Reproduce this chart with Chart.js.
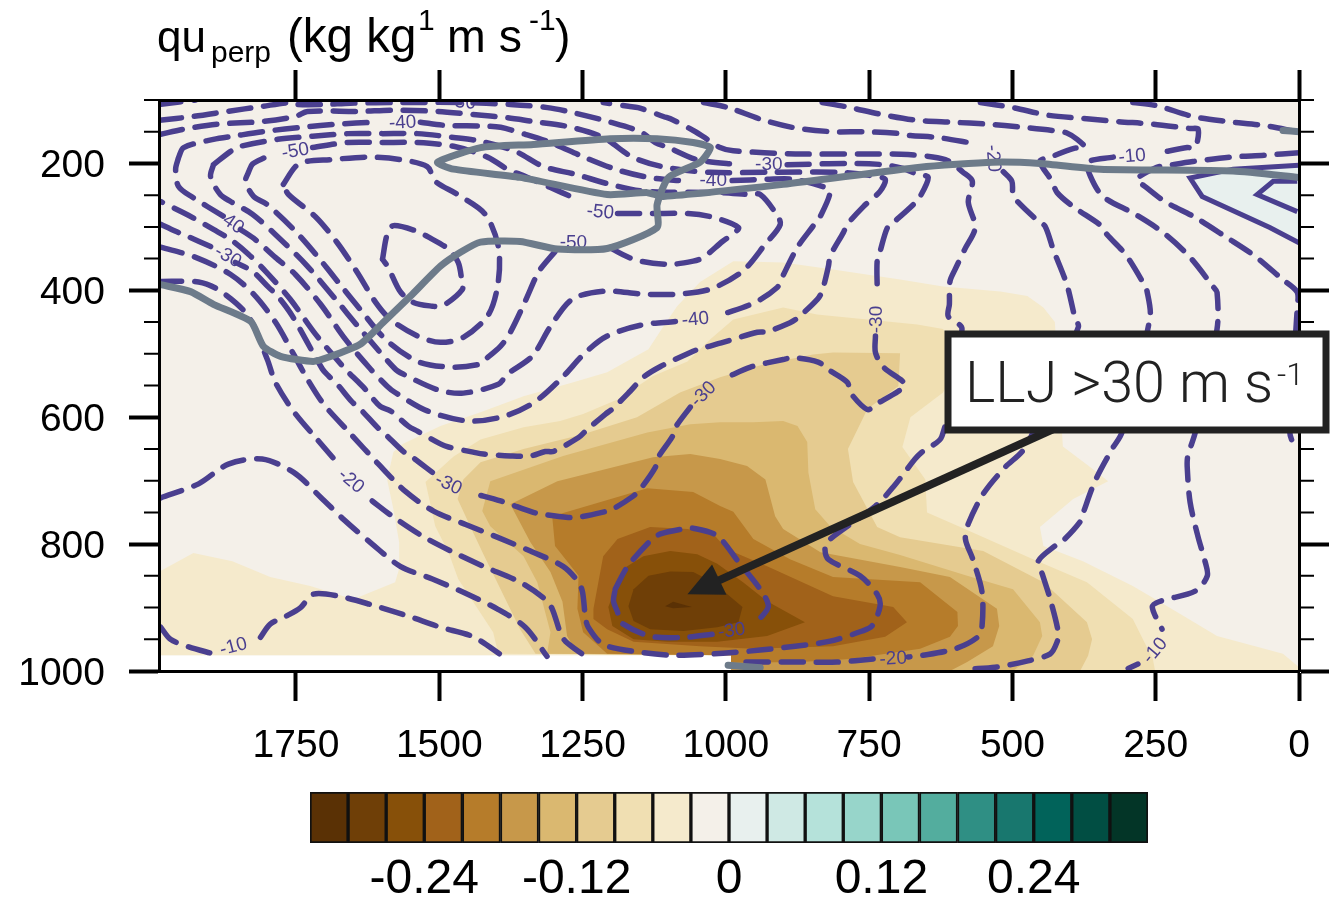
<!DOCTYPE html>
<html>
<head>
<meta charset="utf-8">
<title>qu perp cross section</title>
<script src="https://cdn.jsdelivr.net/npm/chart.js@4/dist/chart.umd.min.js"></script>
<style>
    html, body { margin: 0; padding: 0; background: #ffffff; }
    #cross_section { position: absolute; left: 0; top: 0; }
    #colorbar { position: absolute; left: 0; top: 780px; }
</style>
</head>
<body>
<canvas id="cross_section" width="1330" height="901"></canvas>
<canvas id="colorbar" width="1330" height="121"></canvas>
<script>
    // all pairs are [distance km, pressure hPa], null breaks a line at a contour label
    const x_ticks = [0, 250, 500, 750, 1000, 1250, 1500, 1750];
    const y_ticks = [200, 400, 600, 800, 1000];
    const y_minor_ticks = [100, 150, 250, 300, 350, 450, 500, 550, 650, 700, 750, 850, 900, 950];

    const colorbar_levels = [-0.33, -0.30, -0.27, -0.24, -0.21, -0.18, -0.15, -0.12, -0.09, -0.06, -0.03, 0, 0.03, 0.06, 0.09, 0.12, 0.15, 0.18, 0.21, 0.24, 0.27, 0.30, 0.33];
    const colorbar_ticks = [-0.24, -0.12, 0, 0.12, 0.24];
    const colorbar_colors = ['#5a3105', '#6f3f07', '#875009', '#a1621a', '#b67c2a', '#c7984a', '#dab870', '#e5cb90', '#f0dfb2', '#f5eacc', '#f4f0e9', '#e8f0ee', '#cfe9e4', '#b5e2da', '#97d5ca', '#79c6b8', '#53ad9e', '#2f8f84', '#18776e', '#01635a', '#014e43', '#033527'];

    const fill_neutral = [[1989,100],[0,100],[0,1000],[991,1000],[991,975],[1989,975]];
    const fill_minus_03 = [[1988,843],[1929,814],[1861,827],[1795,852],[1725,866],[1650,887],[1577,860],[1570,839],[1570,797],[1580,745],[1591,698],[1580,655],[1563,642],[1498,614],[1428,592],[1353,567],[1266,545],[1207,529],[1135,493],[1109,457],[1085,425],[1045,387],[987,354],[900,356],[813,367],[696,383],[621,394],[521,402],[474,409],[446,427],[426,450],[417,572],[412,646],[364,679],[333,701],[394,729],[452,773],[446,803],[377,827],[290,866],[213,907],[143,945],[28,973],[0,994],[0,1000],[991,1000],[991,975],[1989,975],[1989,845]];
    const fill_minus_06 = [[1397,973],[1406,939],[1441,891],[1467,855],[1484,813],[1507,772],[1524,702],[1475,662],[1428,635],[1353,616],[1289,606],[1249,595],[1189,572],[1127,535],[1067,512],[1027,477],[987,446],[900,427],[841,438],[666,454],[621,461],[591,509],[621,561],[678,600],[692,647],[652,698],[649,750],[591,773],[464,824],[370,860],[290,918],[255,981],[251,1000],[991,1000],[991,975]];
    const fill_minus_09 = [[1332,973],[1359,934],[1393,871],[1423,816],[1446,772],[1468,729],[1458,698],[1428,671],[1353,650],[1249,627],[1155,600],[1080,561],[1010,537],[935,517],[848,501],[813,498],[696,499],[699,551],[753,587],[787,650],[778,702],[736,773],[696,789],[551,811],[446,860],[370,923],[361,950],[368,976],[382,1000],[991,1000],[991,975]];
    const fill_minus_12 = [[1312,973],[1306,939],[1329,860],[1353,819],[1411,772],[1425,748],[1411,701],[1284,661],[1137,624],[1062,611],[1010,608],[952,608],[900,606],[875,614],[858,639],[856,687],[844,745],[818,772],[766,800],[696,817],[579,850],[499,871],[452,923],[448,945],[464,976],[499,1000],[991,1000],[991,975]];
    const fill_minus_15 = [[1259,973],[1277,945],[1285,891],[1306,844],[1341,797],[1376,737],[1294,701],[1127,663],[1062,658],[1010,666],[963,677],[931,698],[914,756],[900,776],[835,813],[696,836],[609,852],[527,902],[523,929],[534,961],[579,986],[609,1000],[991,1000],[991,975]];
    const fill_minus_18 = [[1207,973],[1249,939],[1259,902],[1257,850],[1298,803],[1303,756],[1137,712],[1057,718],[1010,740],[987,749],[952,792],[888,824],[813,852],[661,860],[596,907],[595,929],[609,946],[661,965],[783,981],[870,986],[991,987],[991,975]];
    const fill_minus_21 = [[1231,902],[1214,819],[1189,792],[1132,773],[1067,776],[1022,784],[998,808],[928,835],[813,882],[708,899],[684,923],[722,946],[813,961],[952,965],[1045,961],[1161,954],[1207,934],[1231,918]];
    const fill_minus_24 = [[1205,899],[1193,871],[1179,839],[1144,819],[1097,811],[1050,816],[1015,831],[970,860],[928,890],[862,923],[928,945],[1015,954],[1102,954],[1161,950],[1198,929]];
    const fill_minus_27 = [[1170,898],[1161,871],[1135,850],[1097,843],[1057,844],[1022,860],[971,899],[978,923],[1015,931],[1074,937],[1132,934],[1161,921]];
    const fill_minus_30 = [[1106,898],[1092,891],[1059,899],[1092,901]];
    const fill_plus_03 = [[0,203],[115,209],[190,223],[169,252],[51,301],[0,325]];

    const contour_edge = [[1989,107],[1925,100]];
    const contour_minus_30 = [[1988,132],[1930,126],[1870,118],[1809,110],[1760,104],[1747,107],[1702,107],[1655,105],[1568,104],[1460,104],[1376,107],[1311,112],[1266,120],[1205,134],[1149,150],[1123,167],[1100,175],[1050,194],[975,202],null,[893,202],[787,200],[725,202],[691,208],[666,217],[647,222],[661,252],[673,265],[705,291],[718,301],[731,339],[736,354],[736,395],null,[739,472],[739,498],[725,521],[687,548],[699,559],[739,580],[753,588],[783,561],[788,545],[821,525],[839,513],[882,506],[900,509],[957,521],[998,537],null,[1062,584],[1088,616],[1093,630],[1120,666],[1123,679],[1149,713],[1161,724],[1198,745],[1216,750],[1259,758],[1275,758],[1320,753],[1336,750],[1393,732],[1437,721],null,[1512,687],[1547,663],[1564,653],[1594,627],[1608,616],[1638,587],[1652,576],[1678,548],[1693,535],[1704,524],[1756,441],[1782,409],[1798,395],[1826,370],[1856,356],null,[1899,331],[1939,315],[1960,307],[1986,296]];
    const contour_minus_35 = [[1986,154],[1946,146],[1885,138],[1809,134],[1751,126],[1730,118],[1641,118],[1580,116],[1503,118],[1441,123],[1381,128],[1336,134],[1275,142],[1214,159],[1163,190],[1106,206],[1027,214],[926,214],[800,214],[748,219],[722,225],[731,244],[760,268],[788,296],[795,309],[818,346],[821,362],[832,401],[840,414],[874,443],[888,451],[928,465],[945,466],[1005,482],[1048,493],[1062,498],[1114,520],[1144,537],[1167,559],[1198,587],[1210,595],[1245,622],[1257,632],[1301,654],[1315,654],[1341,661],[1376,661],[1423,658],[1441,655],[1484,647],[1498,642],[1538,622],[1554,614],[1585,590],[1603,583],[1632,553],[1643,543],[1664,524],[1716,469],[1760,414],[1803,370],[1833,343],[1864,320],[1894,304],[1931,285],[1948,277],[1986,260]];
    const contour_minus_40 = [[1955,191],[1946,175],[1894,162],[1859,157],[1800,149],[1739,143],[1676,138],[1615,135],null,[1533,135],[1489,140],[1425,141],[1393,143],[1350,154],[1306,167],[1250,189],[1193,209],[1135,222],[1071,228],null,[989,227],[928,225],[882,225],[832,236],[818,244],[835,283],[848,299],[875,332],[902,380],[910,395],[949,419],[1006,438],null,[1088,449],[1149,455],[1207,472],[1245,498],[1285,537],[1332,575],[1385,598],[1449,606],[1521,590],[1577,561],[1591,551],[1620,524],[1664,477],[1707,422],[1751,375],[1786,348],[1821,320],[1847,304],null,[1877,283],[1931,253],[1955,236],[1960,209],[1955,191]];
    const contour_minus_45 = [[1894,202],[1864,181],[1847,173],[1782,162],[1721,157],[1660,153],[1599,153],[1538,153],[1475,159],[1428,165],[1367,181],[1318,205],[1263,217],[1202,233],[1141,244],[1005,246],[958,249],[940,249],[914,277],[905,296],[931,327],[971,370],[1027,398],[1085,406],[1146,406],[1210,401],[1268,414],[1306,457],[1338,504],[1381,532],[1397,548],[1458,562],[1502,557],[1563,532],[1577,524],[1638,461],[1681,414],[1733,359],[1786,312],[1826,280],[1864,260],[1882,249],[1899,221],[1894,202]];
    const contour_minus_50 = [[1833,214],[1826,201],[1803,190],null,[1721,175],[1660,167],[1599,167],[1538,167],[1475,173],[1416,190],[1376,212],[1359,217],[1306,238],[1266,254],null,[1189,279],[1127,279],[1066,279],[1022,285],[978,301],[989,312],[1006,323],[1039,348],[1057,354],[1100,359],[1161,351],[1214,327],null,[1298,339],[1324,367],[1332,380],[1350,417],[1376,466],[1393,488],[1420,509],[1432,517],[1481,521],[1538,512],[1594,477],[1638,430],[1673,391],[1713,346],[1754,304],[1800,265],[1824,252],[1838,228],[1833,214]];
    const contour_minus_55 = [[1772,233],[1751,205],[1733,197],[1690,194],[1625,190],[1568,194],[1521,205],[1507,228],[1468,249],[1420,280],[1397,331],[1397,386],[1414,438],[1458,474],[1498,482],[1538,472],[1585,446],[1611,419],[1643,372],[1678,325],[1716,284],[1763,249],[1772,233]];
    const contour_minus_60 = [[1599,351],[1591,312],[1580,298],[1538,307],[1521,315],[1484,335],[1467,356],[1461,383],[1460,399],[1495,425],[1512,425],[1545,419],[1568,402],[1589,364],[1599,351]];
    const contour_minus_20_west = [[1988,386],[1920,387],[1882,401],[1833,441],[1800,509],[1786,545],[1754,591],[1713,635],[1673,677],null,[1617,732],[1582,756],[1530,787],[1475,813],[1423,835],[1359,860],[1315,887],[1303,902],[1289,939],[1280,953],[1245,977]];
    const contour_minus_25 = [[1986,332],[1925,348],[1864,375],[1824,406],[1786,450],[1754,501],[1730,540],[1702,579],[1659,622],[1606,674],[1559,717],[1510,748],[1454,769],[1399,789],[1341,811],[1284,835],[1257,860],[1250,876],[1245,915],[1240,931],[1214,958],[1153,970],[1092,975],[1005,972],[940,967],[879,961],[818,953],[762,937],[745,929],[731,898],[736,879],[766,850],[821,824],[827,805],[818,792],[739,740],[708,710],[670,666],[658,655],[623,630],[588,461],[612,441],[610,422],[609,386],[600,367],[583,335],[565,301],[577,261],[570,228],[586,214],[617,194],[682,186],[758,185],[879,185],[987,180],[1010,175],[1039,158],[1053,150],[1093,131],[1109,126],[1153,112],[1170,110],[1214,104]];
    const contour_minus_20_east = [[1039,104],[996,112],[937,131],[879,144],[814,150],[757,150],[696,153],[678,156],[631,159],[570,168],null,[516,213],[501,228],[499,249],[490,261],[455,291],[443,299],[429,335],[405,391],[391,443],[385,458],[464,624],[483,654],[513,679],[551,721],[577,768],[582,792],[569,824],[553,876],[553,929],[560,946],[600,965],[661,976],[682,978],null,[743,981],[806,986],[865,986],[928,986],[975,986]];
    const contour_minus_15 = [[832,104],[788,111],[727,123],[666,132],[605,135],[544,138],[483,143],[422,149],[405,152],[387,162],[373,175],[391,176],[434,190],[452,197],[431,228],[422,246],[394,268],[344,299],[335,312],[303,343],[272,388],[265,402],[260,443],[309,624],[326,650],[356,701],[377,752],[382,765],[412,795],[426,803],[455,827],[448,847],[434,887],[420,939],[422,954],[434,973],[473,984],[530,994],[574,997]];
    const contour_minus_10_east = [[556,104],[499,112],[438,124],[377,129],[316,134],[255,138],[190,145],[176,146],[181,175],[195,175],[242,183],null,[324,190],[368,198],[364,220],[342,252],[286,280],[237,309],[190,348],[150,394],[143,403],[143,461],[181,624],[194,661],[195,679],[190,734],[176,789],[164,827],[160,850],[181,874],[242,890],[256,899],[239,934],null,[281,989],[298,996]];
    const contour_minus_05 = [[0,183],[59,187],[120,190],[185,197],[228,203],[248,206],[283,225],[269,236],[234,260],[181,285],[129,315],[77,346],[30,382],[3,403],[3,427],[16,624],[7,648]];
    const contour_top_east = [[290,104],[248,109],[185,126],[124,134],[63,140],[3,150]];
    const contour_minus_15_west = [[1986,727],[1920,705],[1868,674],[1809,666],[1754,687],[1707,726],[1667,761],[1617,800],[1568,835],[1512,855],[1458,876],[1399,902],[1350,931],[1312,977]];
    const contour_minus_10_west = [[1986,931],[1969,950],[1937,962],[1894,973],null,[1812,947],[1795,926],[1768,914],[1742,900],[1720,879],[1676,882],[1617,896],[1556,913],[1498,931],[1441,946],[1390,976]];
    const contour_minus_30_jet = [[1193,871],[1172,836],[1132,795],[1114,784],[1074,776],[1057,775],[1015,787],[978,828],[937,875],[926,899],[944,921],null,[1024,942],[1071,947],[1132,945],[1184,923],[1189,907],[1196,890],[1193,871]];

    const solid_outer = [[0,203],[115,209],[190,223],[169,252],[51,301],[0,325]];
    const solid_inner = [[3,228],[45,228],[73,249],[3,276]];

    const theta_line = [[1986,391],[1934,402],[1894,422],[1829,449],[1807,488],[1777,504],[1720,512],[1695,506],[1638,485],[1597,450],[1550,409],[1498,362],[1463,340],[1428,324],[1359,323],[1294,335],[1207,334],[1120,301],[1120,265],[1100,222],[1045,198],[1027,175],[1057,167],[1120,161],[1202,161],[1336,170],[1428,175],[1503,198],[1475,209],[1359,222],[1207,249],[1137,246],[1109,252],[900,233],[661,206],[534,198],[452,200],[347,209],[115,212],[0,222]];
    const theta_top_bit = [[28,148],[0,150]];
    const theta_bottom_bit = [[996,991],[940,995]];

    // text, distance, pressure, rotation in degrees
    const contour_labels = [
        ['-30', 1460, 104, 5], ['-40', 1564, 136, -3], ['-50', 1751, 181, -10], ['-40', 1864, 293, 35],
        ['-30', 1869, 347, 30], ['-50', 1219, 277, 5], ['-50', 1266, 325, 0], ['-40', 1053, 446, -5],
        ['-30', 925, 202, 0], ['-40', 1022, 228, 0], ['-30', 736, 446, -90], ['-20', 534, 192, 85],
        ['-10', 291, 189, -5], ['-30', 1039, 564, -45], ['-30', 1484, 706, 25], ['-20', 1654, 701, 40],
        ['-30', 990, 937, -8], ['-20', 708, 981, -3], ['-10', 1859, 962, -15], ['-10', 251, 968, -50]
    ];

    const arrow_tail = [417, 614];
    const arrow_neck = [1014, 858];
    const arrow_head = [[1067, 879], [1024, 832], [999, 880]];

    const contour_color = '#4a3f8f';
    const theta_color = '#6d7b8a';
    const box_color = '#222222';

    function to_points(pairs) {
        return pairs.map(p => p ? {x: p[0], y: p[1]} : {x: NaN, y: NaN});
    }

    const datasets = [];

    function add_fill(pairs, color) {
        datasets.push({label: 'fill', data: to_points(pairs), fill: 'shape', backgroundColor: color, borderWidth: 0, pointRadius: 0, tension: 0});
    }
    function add_contour(pairs) {
        datasets.push({label: 'contour', data: to_points(pairs), fill: false, borderColor: contour_color, borderWidth: 5.5, borderDash: [22, 13], borderCapStyle: 'round', borderJoinStyle: 'round', pointRadius: 0, tension: 0.3});
    }
    function add_solid(pairs) {
        datasets.push({label: 'solid', data: to_points(pairs), fill: false, borderColor: contour_color, borderWidth: 5, pointRadius: 0, tension: 0});
    }
    function add_theta(pairs) {
        datasets.push({label: 'theta', data: to_points(pairs), fill: false, borderColor: theta_color, borderWidth: 7, borderCapStyle: 'round', pointRadius: 0, tension: 0.2});
    }

    add_fill(fill_neutral, colorbar_colors[10]);
    add_fill(fill_minus_03, colorbar_colors[9]);
    add_fill(fill_minus_06, colorbar_colors[8]);
    add_fill(fill_minus_09, colorbar_colors[7]);
    add_fill(fill_minus_12, colorbar_colors[6]);
    add_fill(fill_minus_15, colorbar_colors[5]);
    add_fill(fill_minus_18, colorbar_colors[4]);
    add_fill(fill_minus_21, colorbar_colors[3]);
    add_fill(fill_minus_24, colorbar_colors[2]);
    add_fill(fill_minus_27, colorbar_colors[1]);
    add_fill(fill_minus_30, colorbar_colors[0]);
    add_fill(fill_plus_03, colorbar_colors[11]);

    [contour_edge, contour_minus_30, contour_minus_35, contour_minus_40, contour_minus_45, contour_minus_50,
     contour_minus_55, contour_minus_60, contour_minus_20_west, contour_minus_25, contour_minus_20_east,
     contour_minus_15, contour_minus_10_east, contour_minus_05, contour_top_east, contour_minus_15_west,
     contour_minus_10_west, contour_minus_30_jet].forEach(add_contour);

    add_solid(solid_outer);
    add_solid(solid_inner);
    add_theta(theta_line);
    add_theta(theta_top_bit);
    add_theta(theta_bottom_bit);

    // later entries go on top
    datasets.forEach((d, i) => { d.order = -i; });

    let labels_drawn = false;

    function draw_contour_labels(chart) {
        const ctx = chart.ctx;
        const area = chart.chartArea;
        ctx.save();
        ctx.beginPath();
        ctx.rect(area.left, area.top, area.right - area.left, area.bottom - area.top);
        ctx.clip();
        ctx.fillStyle = contour_color;
        ctx.font = '19px "Liberation Sans"';
        ctx.textAlign = 'center';
        ctx.textBaseline = 'middle';
        contour_labels.forEach(l => {
            ctx.save();
            ctx.translate(chart.scales.x.getPixelForValue(l[1]), chart.scales.y.getPixelForValue(l[2]));
            ctx.rotate(l[3] * Math.PI / 180);
            ctx.fillText(l[0], 0, 0);
            ctx.restore();
        });
        ctx.restore();
    }

    const section_plugin = {
        id: 'section_plugin',
        beforeDraw() {
            labels_drawn = false;
        },
        beforeDatasetDraw(chart, args) {
            if (!labels_drawn && chart.data.datasets[args.index].label === 'theta') {
                draw_contour_labels(chart);
                labels_drawn = true;
            }
        },
        afterDraw(chart) {
            const ctx = chart.ctx;
            const sx = chart.scales.x;
            const sy = chart.scales.y;

            // minor pressure ticks both sides
            ctx.save();
            ctx.strokeStyle = '#000000';
            ctx.lineWidth = 2;
            y_minor_ticks.forEach(v => {
                const py = sy.getPixelForValue(v);
                ctx.beginPath();
                ctx.moveTo(chart.chartArea.left - 15, py);
                ctx.lineTo(chart.chartArea.left, py);
                ctx.moveTo(chart.chartArea.right, py);
                ctx.lineTo(chart.chartArea.right + 15, py);
                ctx.stroke();
            });
            ctx.restore();

            // title
            ctx.save();
            ctx.fillStyle = '#000000';
            ctx.textBaseline = 'alphabetic';
            ctx.font = '44px "Liberation Sans"';
            ctx.fillText('qu', 157, 52);
            ctx.font = '47.5px "Liberation Sans"';
            ctx.fillText('(kg kg', 287, 52);
            ctx.font = '46.5px "Liberation Sans"';
            ctx.fillText('m s', 447, 52);
            ctx.fillText(')', 555, 52);
            ctx.font = '30px "Liberation Sans"';
            ctx.fillText('perp', 211, 62);
            ctx.fillText('1', 418, 30);
            ctx.fillText('-1', 529, 30);
            ctx.restore();

            // arrow to the jet
            ctx.save();
            ctx.strokeStyle = box_color;
            ctx.fillStyle = box_color;
            ctx.lineWidth = 8;
            ctx.beginPath();
            ctx.moveTo(sx.getPixelForValue(arrow_tail[0]), sy.getPixelForValue(arrow_tail[1]));
            ctx.lineTo(sx.getPixelForValue(arrow_neck[0]), sy.getPixelForValue(arrow_neck[1]));
            ctx.stroke();
            ctx.beginPath();
            arrow_head.forEach((p, i) => {
                const px = sx.getPixelForValue(p[0]);
                const py = sy.getPixelForValue(p[1]);
                if (i == 0) { ctx.moveTo(px, py); } else { ctx.lineTo(px, py); }
            });
            ctx.closePath();
            ctx.fill();

            // callout box
            ctx.fillStyle = '#ffffff';
            ctx.fillRect(948, 334, 378, 96);
            ctx.lineWidth = 7;
            ctx.strokeRect(948, 334, 378, 96);
            ctx.fillStyle = box_color;
            ctx.textBaseline = 'alphabetic';
            ctx.font = '300 57.5px Roboto';
            ctx.fillText('LLJ >30 m s', 965, 402);
            ctx.font = '300 32px Roboto';
            ctx.fillText('-1', 1277, 385);
            ctx.restore();
        }
    };

    function set_size(prop, size) {
        return function(scale) { scale[prop] = size; };
    }
    function set_ticks(values) {
        return function(scale) { scale.ticks = values.map(v => ({value: v})); };
    }

    const tick_font = {family: '"Liberation Sans"', size: 39};
    const axis_border = {color: '#000000', width: 3, z: 2};
    const major_grid = {drawOnChartArea: false, drawTicks: true, tickLength: 30, tickWidth: 4, tickColor: '#000000', z: 2};

    new Chart(document.getElementById('cross_section').getContext('2d'), {
        type: 'line',
        data: {datasets: datasets},
        plugins: [section_plugin],
        options: {
            responsive: false,
            animation: false,
            layout: {padding: 0},
            plugins: {legend: {display: false}, tooltip: {enabled: false}, title: {display: false}},
            scales: {
                x: {
                    type: 'linear', position: 'bottom', reverse: true, min: 0, max: 1989,
                    afterBuildTicks: set_ticks(x_ticks), afterFit: set_size('height', 230),
                    border: axis_border, grid: major_grid,
                    ticks: {display: true, autoSkip: false, maxRotation: 0, color: '#000000', font: tick_font, padding: 22, z: 2, callback: v => String(v)}
                },
                x2: {
                    type: 'linear', position: 'top', reverse: true, min: 0, max: 1989,
                    afterBuildTicks: set_ticks(x_ticks), afterFit: set_size('height', 100),
                    border: axis_border, grid: major_grid,
                    ticks: {display: false, autoSkip: false}
                },
                y: {
                    type: 'linear', position: 'left', reverse: true, min: 100, max: 1000,
                    afterBuildTicks: set_ticks(y_ticks), afterFit: set_size('width', 159),
                    border: axis_border, grid: major_grid,
                    ticks: {display: true, autoSkip: false, color: '#000000', font: tick_font, padding: 24, labelOffset: 3, z: 2, callback: v => String(v)}
                },
                y2: {
                    type: 'linear', position: 'right', reverse: true, min: 100, max: 1000,
                    afterBuildTicks: set_ticks(y_ticks), afterFit: set_size('width', 31),
                    border: axis_border, grid: major_grid,
                    ticks: {display: false, autoSkip: false}
                }
            }
        }
    });

    const colorbar_datasets = colorbar_colors.map((c, i) => ({
        data: [[colorbar_levels[i], colorbar_levels[i + 1]]],
        backgroundColor: c,
        borderColor: '#111111',
        borderWidth: 2,
        borderSkipped: false,
        barPercentage: 1,
        categoryPercentage: 1,
        grouped: false
    }));

    new Chart(document.getElementById('colorbar').getContext('2d'), {
        type: 'bar',
        data: {labels: ['qu'], datasets: colorbar_datasets},
        options: {
            indexAxis: 'y',
            responsive: false,
            animation: false,
            layout: {padding: {left: 310, right: 182, top: 12, bottom: 0}},
            plugins: {legend: {display: false}, tooltip: {enabled: false}},
            scales: {
                y: {display: false, stacked: true},
                x: {
                    type: 'linear', position: 'bottom', min: -0.33, max: 0.33,
                    afterBuildTicks: set_ticks(colorbar_ticks), afterFit: set_size('height', 58),
                    border: {display: false},
                    grid: {display: false, drawTicks: false},
                    ticks: {autoSkip: false, maxRotation: 0, color: '#000000', font: {family: '"Liberation Sans"', size: 48}, padding: 8,
                        callback: v => Math.abs(v) < 0.001 ? '0' : v.toFixed(2)}
                }
            }
        }
    });
</script>
</body>
</html>
